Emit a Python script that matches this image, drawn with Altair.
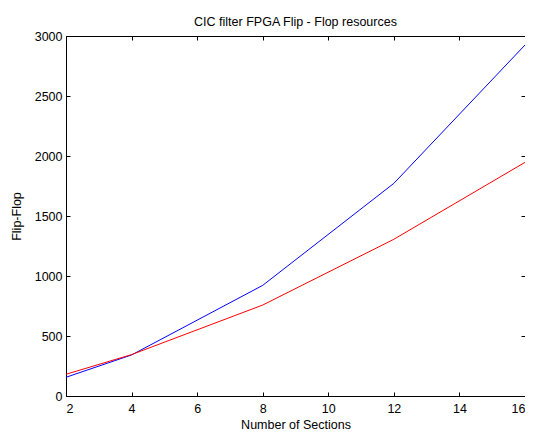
import altair as alt
import pandas as pd

sections = [2, 4, 8, 12, 16]
blue_ff = [156, 342, 922, 1772, 2925]
red_ff = [181, 345, 758, 1306, 1947]

df = pd.DataFrame({
    "x": sections * 2,
    "y": blue_ff + red_ff,
    "s": ["blue"] * len(sections) + ["red"] * len(sections),
})

font = "Liberation Sans"
xs = alt.Scale(domain=[2, 16], nice=False, zero=False)
ys = alt.Scale(domain=[0, 3000], nice=False)
xvals = [2, 4, 6, 8, 10, 12, 14, 16]
yvals = [0, 500, 1000, 1500, 2000, 2500, 3000]

lines = alt.Chart(df).mark_line(strokeWidth=1, clip=True).encode(
    x=alt.X("x:Q", scale=xs, axis=alt.Axis(
        orient="bottom", values=xvals, format="d", title="Number of Sections", domain=False,
        offset=-4, tickSize=4, labelPadding=6, titlePadding=4, grid=False)),
    y=alt.Y("y:Q", scale=ys, axis=alt.Axis(
        orient="left", values=yvals, format="d", title="Flip-Flop", domain=False,
        offset=-4, tickSize=4, labelPadding=4, titlePadding=11, grid=False)),
    color=alt.Color("s:N", scale=alt.Scale(domain=["blue", "red"], range=["#0000ff", "#ff0000"]), legend=None),
    detail="s:N",
)

frame = alt.Chart(df).mark_point(opacity=0).encode(
    x=alt.X("x:Q", scale=xs, axis=alt.Axis(
        orient="top", values=xvals, labels=False, title=None, domain=False,
        offset=-4, tickSize=4, grid=False)),
    y=alt.Y("y:Q", scale=ys, axis=alt.Axis(
        orient="right", values=yvals, labels=False, title=None, domain=False,
        offset=-4, tickSize=4, grid=False)),
)

chart = alt.layer(lines, frame).resolve_axis(x="independent", y="independent").properties(
    width=459, height=360,
    background="white",
    title=alt.TitleParams("CIC filter FPGA Flip - Flop resources", fontSize=12.5, font=font,
                          fontWeight="normal", color="black", offset=2),
    autosize=alt.AutoSizeParams(type="none"),
    padding={"left": 58, "top": 28, "right": 0, "bottom": 36},
).configure_view(stroke="black", strokeWidth=1).configure_axis(
    labelFont=font, titleFont=font, labelFontSize=12.5, titleFontSize=12.5,
    labelColor="black", titleColor="black", tickColor="black",
    titleFontWeight="normal", labelFontWeight="normal",
)

chart.save("out.html", embed_options={"renderer": "svg", "actions": False})
